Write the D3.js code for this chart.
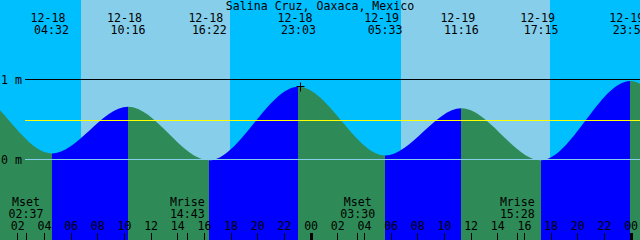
<!DOCTYPE html>
<html>
<head>
<meta charset="utf-8">
<script src="https://cdnjs.cloudflare.com/ajax/libs/d3/7.8.5/d3.min.js"></script>
<style>
body { margin: 0; background: #fff; }
#chart text { font-family: 'DejaVu Sans Mono', monospace; font-size: 11.6px; fill: #000; }
</style>
</head>
<body>
<div id="chart"></div>
<script>
//Colores fijos
const COLOR_NIGHT = '#00BFFF',
COLOR_DAY = '#87CEEB',
COLOR_FALLING = '#2E8B57',
COLOR_RISING = '#0000FF',
COLOR_MEAN = '#FFFF00';

//Datos
const title = 'Salina Cruz, Oaxaca, Mexico';
const timeDomain = ['2024-12-18 00:40', '2024-12-20 00:40'];
const tideTimes = ['2024-12-17 16:10', '2024-12-17 22:15', '2024-12-18 04:32', '2024-12-18 10:16', '2024-12-18 16:22',
    '2024-12-18 23:03', '2024-12-19 05:33', '2024-12-19 11:16', '2024-12-19 17:15', '2024-12-19 23:56',
    '2024-12-20 06:30', '2024-12-20 12:15'];
const tideLevels = [0.0, 0.88, 0.075, 0.66, -0.01, 0.91, 0.05, 0.64, -0.01, 0.98, 0.05, 0.63];
const sunrise = ['2024-12-18 06:44', '2024-12-19 06:44'];
const sunset = ['2024-12-18 17:55', '2024-12-19 17:55'];
const moonTimes = ['2024-12-18 02:37', '2024-12-18 14:43', '2024-12-19 03:30', '2024-12-19 15:28'];
const moonEvents = ['Mset', 'Mrise', 'Mset', 'Mrise'];
const levelTicks = [0, 1];
const meanLevel = 0.49;
const nowTime = '2024-12-18 23:10', nowLevel = 0.91;

let parse = d3.timeParse('%Y-%m-%d %H:%M');
let width = 640, height = 240;

let svg = d3.select('#chart')
    .append('svg')
    .attr('width', width)
    .attr('height', height);

let x = d3.scaleTime()
    .domain(timeDomain.map(parse))
    .range([0, width]);

let y = d3.scaleLinear()
    .domain([0, 1])
    .range([159.5, 79.5]);

//Fondo noche / día
svg.append('rect')
    .attr('width', width)
    .attr('height', height)
    .attr('fill', COLOR_NIGHT);

svg.selectAll('.day')
    .data(sunrise)
    .enter()
    .append('rect')
    .attr('class', 'day')
    .attr('x', function(d) { return Math.round(x(parse(d))); })
    .attr('width', function(d, i) { return Math.round(x(parse(sunset[i]))) - Math.round(x(parse(d))); })
    .attr('y', 0)
    .attr('height', height)
    .attr('fill', COLOR_DAY);

//Curva de marea
let tide = tideTimes.map(function(d, i) { return { t: parse(d), v: tideLevels[i] }; });

let area = d3.area()
    .x(function(d) { return x(d.t); })
    .y0(height)
    .y1(function(d) { return y(d.v); })
    .curve(d3.curveMonotoneX);

svg.append('clipPath')
    .attr('id', 'tide-clip')
    .append('path')
    .attr('d', area(tide));

svg.append('g')
    .attr('clip-path', 'url(#tide-clip)')
    .selectAll('rect')
    .data(d3.pairs(tide))
    .enter()
    .append('rect')
    .attr('x', function(d) { return Math.round(x(d[0].t)); })
    .attr('width', function(d) { return Math.round(x(d[1].t)) - Math.round(x(d[0].t)); })
    .attr('y', 0)
    .attr('height', height)
    .attr('fill', function(d) { return d[1].v > d[0].v ? COLOR_RISING : COLOR_FALLING; });

//Líneas de nivel
svg.selectAll('.level')
    .data(levelTicks)
    .enter()
    .append('line')
    .attr('class', 'level')
    .attr('x1', 25)
    .attr('x2', width)
    .attr('y1', function(d) { return y(d); })
    .attr('y2', function(d) { return y(d); })
    .attr('stroke', function(d) { return d === 0 ? COLOR_DAY : '#000'; })
    .attr('stroke-width', 1);

svg.append('line')
    .attr('x1', 25)
    .attr('x2', width)
    .attr('y1', Math.round(y(meanLevel)) + 0.5)
    .attr('y2', Math.round(y(meanLevel)) + 0.5)
    .attr('stroke', COLOR_MEAN)
    .attr('stroke-width', 1);

svg.selectAll('.level-label')
    .data(levelTicks)
    .enter()
    .append('text')
    .attr('class', 'level-label')
    .attr('x', 1)
    .attr('y', function(d) { return y(d) + 4; })
    .text(function(d) { return d + ' m'; });

//Marca del momento actual
let nx = Math.floor(x(parse(nowTime))) + 0.5, ny = Math.floor(y(nowLevel)) + 0.5;
svg.append('path')
    .attr('d', 'M' + (nx - 4) + ',' + ny + 'H' + (nx + 4) + 'M' + nx + ',' + (ny - 4) + 'V' + (ny + 5))
    .attr('stroke', '#000')
    .attr('stroke-width', 1);

//Título
svg.append('text')
    .attr('x', width / 2)
    .attr('y', 9.5)
    .attr('text-anchor', 'middle')
    .text(title);

//Etiquetas de pleamar / bajamar
let visible = tide.filter(function(d) { return d.t >= x.domain()[0] && d.t <= x.domain()[1]; });

svg.selectAll('.tide-date')
    .data(visible)
    .enter()
    .append('text')
    .attr('class', 'tide-date')
    .attr('x', function(d) { return x(d.t) - 3.5; })
    .attr('y', 21.5)
    .attr('text-anchor', 'middle')
    .text(function(d) { return d3.timeFormat('%m-%d')(d.t); });

svg.selectAll('.tide-time')
    .data(visible)
    .enter()
    .append('text')
    .attr('class', 'tide-time')
    .attr('x', function(d) { return x(d.t); })
    .attr('y', 34)
    .attr('text-anchor', 'middle')
    .text(function(d) { return d3.timeFormat('%H:%M')(d.t); });

//Luna
svg.selectAll('.moon-event')
    .data(moonTimes)
    .enter()
    .append('text')
    .attr('class', 'moon-event')
    .attr('x', function(d) { return x(parse(d)); })
    .attr('y', 205.5)
    .attr('text-anchor', 'middle')
    .text(function(d, i) { return moonEvents[i]; });

svg.selectAll('.moon-time')
    .data(moonTimes)
    .enter()
    .append('text')
    .attr('class', 'moon-time')
    .attr('x', function(d) { return x(parse(d)); })
    .attr('y', 217.5)
    .attr('text-anchor', 'middle')
    .text(function(d) { return d.slice(11); });

svg.selectAll('.moon-tick')
    .data(moonTimes)
    .enter()
    .append('line')
    .attr('class', 'moon-tick')
    .attr('x1', function(d) { return x(parse(d)); })
    .attr('x2', function(d) { return x(parse(d)); })
    .attr('y1', 232.5)
    .attr('y2', height)
    .attr('stroke', '#000')
    .attr('shape-rendering', 'crispEdges');

//Eje de horas
let xAxis = function(g) {
    g.call(d3.axisTop(x)
        .ticks(d3.timeHour.every(2))
        .tickFormat(d3.timeFormat('%H'))
        .tickSize(7.5)
        .tickPadding(2.5)
        .offset(0));
    g.call(function(g) { g.select('.domain').remove(); });
    g.selectAll('.tick line')
        .attr('shape-rendering', 'crispEdges')
        .attr('stroke-width', function(d) { return d.getHours() === 0 ? 3 : 1; });
};

svg.append('g')
    .attr('transform', 'translate(0,' + height + ')')
    .call(xAxis);
</script>
</body>
</html>
